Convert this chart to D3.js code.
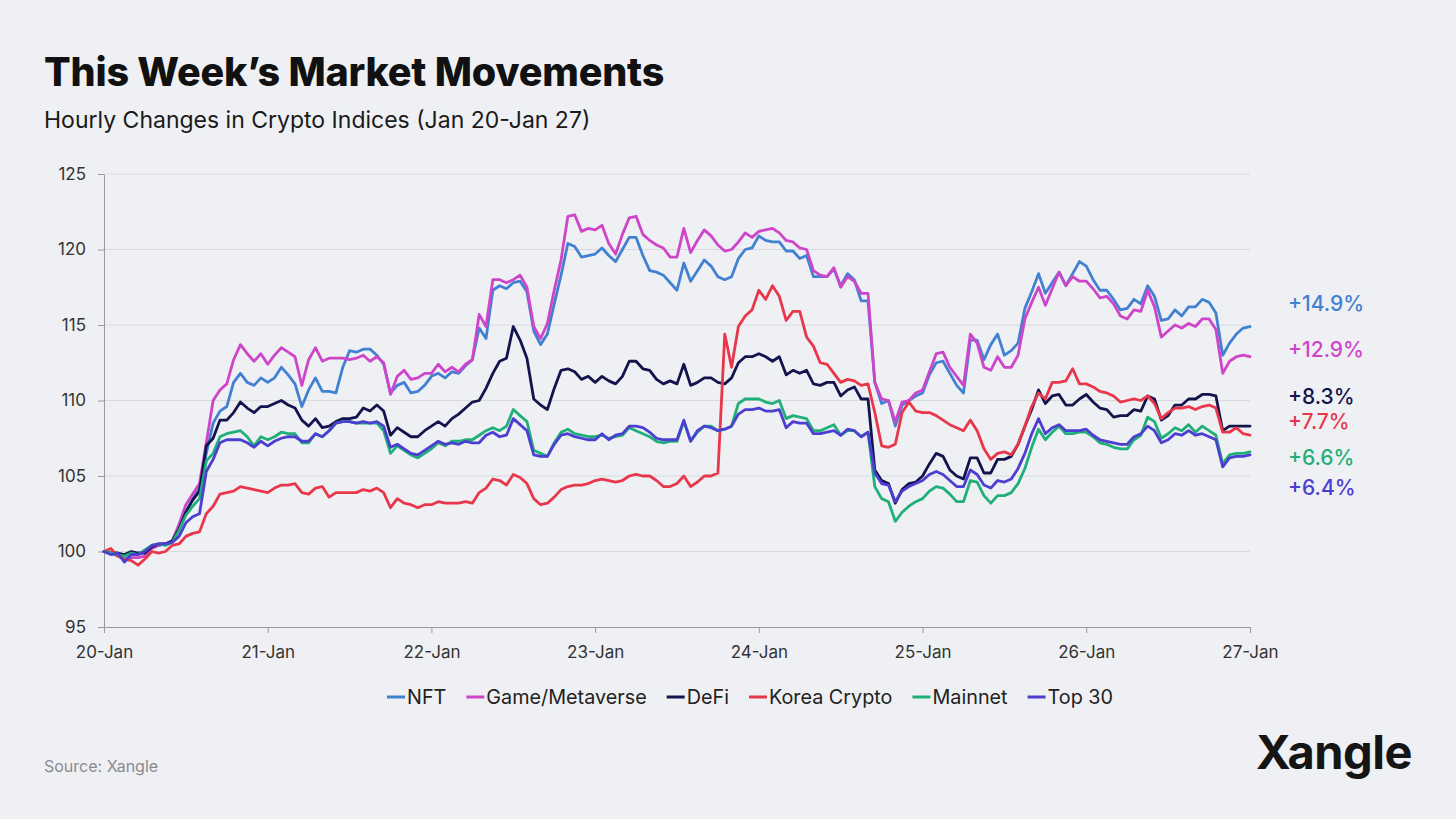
<!DOCTYPE html>
<html>
<head>
<meta charset="utf-8">
<script src="https://cdn.jsdelivr.net/npm/d3@7"></script>
<style>
  html, body { margin: 0; padding: 0; background: #eff0f4; }
  svg { display: block; font-family: Inter, "Noto Sans", sans-serif; }
</style>
</head>
<body>
<svg id="chart"></svg>
<script>
// hourly index values, Jan 20 00:00 .. Jan 27 00:00 (169 points)
const dayLabels = ["20-Jan", "21-Jan", "22-Jan", "23-Jan", "24-Jan", "25-Jan", "26-Jan", "27-Jan"];
const yTicks = [95, 100, 105, 110, 115, 120, 125];
const seriesNames = ["NFT", "Game/Metaverse", "DeFi", "Korea Crypto", "Mainnet", "Top 30"];

const nft = [
    100, 99.9, 99.8, 99.7, 99.8, 99.8, 100.0, 100.3, 100.4, 100.5, 100.7, 101.5, 102.6, 103.5, 104.2, 106.5, 108.5, 109.3, 109.6, 111.2, 111.8, 111.2, 111.0, 111.5, 111.2, 111.5, 112.2, 111.7, 111.1, 109.6, 110.7, 111.5, 110.6, 110.6, 110.5, 112.2, 113.3, 113.2, 113.4, 113.4, 113.0, 112.4, 110.5,
    111.0, 111.2, 110.5, 110.6, 111.0, 111.6, 111.8, 111.5, 111.9, 111.8, 112.3, 112.7, 114.8, 114.1, 117.3, 117.6, 117.4, 117.8, 117.9, 117.2, 114.6, 113.7, 114.4, 116.4, 118.3, 120.4, 120.2, 119.5, 119.6, 119.7, 120.1, 119.6, 119.2, 120.0, 120.8, 120.8, 119.6, 118.6, 118.5, 118.3, 117.8,
    117.3, 119.1, 117.9, 118.6, 119.3, 118.9, 118.2, 118.0, 118.2, 119.4, 120.0, 120.1, 120.9, 120.6, 120.5, 120.5, 119.9, 119.9, 119.4, 119.6, 118.2, 118.2, 118.2, 118.7, 117.6, 118.4, 118.0, 116.6, 116.6, 111.2, 109.8, 110.0, 108.3, 109.7, 110.0, 110.3, 110.5, 111.7, 112.5, 112.6, 111.8, 111.0,
    110.5, 114.0, 114.0, 112.7, 113.7, 114.4, 113.0, 113.3, 113.8, 116.1, 117.2, 118.4, 117.1, 117.8, 118.5, 117.6, 118.4, 119.2, 118.9, 118.0, 117.3, 117.3, 116.7, 116.0, 116.1, 116.7, 116.4, 117.6, 116.9, 115.3, 115.4, 116.0, 115.6, 116.2, 116.2, 116.7, 116.5, 115.8, 113.0, 113.8, 114.4, 114.8, 114.9
];
const game = [
    100, 99.9, 99.7, 99.5, 99.6, 99.6, 99.7, 100.2, 100.4, 100.5, 100.7, 101.8, 103.1, 103.8, 104.5, 107.2, 110.0, 110.7, 111.1, 112.7, 113.7, 113.1, 112.6, 113.1, 112.4, 113.0, 113.5, 113.2, 112.9, 111.0, 112.7, 113.5, 112.6, 112.8, 112.8, 112.8, 112.7, 112.8, 113.0, 112.6, 112.9, 112.5, 110.4,
    111.6, 112.0, 111.4, 111.5, 111.8, 111.8, 112.4, 111.9, 112.2, 111.9, 112.4, 112.7, 115.7, 114.9, 118.0, 118.0, 117.8, 118.0, 118.3, 117.5, 114.9, 114.1, 115.1, 117.3, 119.3, 122.2, 122.3, 121.2, 121.4, 121.3, 121.6, 120.4, 119.7, 121.0, 122.1, 122.2, 121.0, 120.6, 120.3, 120.1, 119.5,
    119.5, 121.4, 119.8, 120.6, 121.3, 120.9, 120.3, 119.9, 120.0, 120.5, 121.1, 120.8, 121.2, 121.3, 121.4, 121.1, 120.6, 120.5, 120.1, 120.0, 118.6, 118.3, 118.2, 118.8, 117.5, 118.2, 117.9, 117.1, 117.1, 111.2, 110.1, 110.0, 108.6, 109.9, 110.0, 110.5, 110.7, 111.9, 113.1, 113.2, 112.2, 111.6,
    111.0, 114.4, 113.8, 112.2, 112.0, 112.9, 112.2, 112.2, 113.0, 115.4, 116.5, 117.5, 116.3, 117.4, 118.5, 117.6, 118.2, 117.9, 117.9, 117.4, 116.8, 116.9, 116.4, 115.6, 115.4, 116.0, 115.9, 117.3, 116.2, 114.2, 114.6, 115.0, 114.8, 115.1, 114.9, 115.4, 115.4, 114.7, 111.8, 112.6, 112.9, 113.0, 112.9
];
const defi = [
    100, 99.9, 99.9, 99.8, 100.0, 99.9, 99.9, 100.3, 100.5, 100.5, 100.7, 101.5, 102.6, 103.4, 104.0, 107.0, 107.5, 108.7, 108.7, 109.2, 109.9, 109.5, 109.2, 109.6, 109.6, 109.8, 110.0, 109.7, 109.5, 108.7, 108.3, 108.8, 108.2, 108.3, 108.6, 108.8, 108.8, 108.9, 109.5, 109.3, 109.7, 109.3, 107.7,
    108.2, 107.9, 107.6, 107.6, 108.0, 108.3, 108.6, 108.3, 108.8, 109.1, 109.5, 109.9, 110.0, 110.8, 111.8, 112.6, 112.8, 114.9, 114.0, 112.8, 110.1, 109.7, 109.4, 110.8, 112.0, 112.1, 111.9, 111.4, 111.6, 111.2, 111.6, 111.3, 111.1, 111.6, 112.6, 112.6, 112.1, 112.0, 111.4, 111.1, 111.3,
    111.1, 112.4, 111.0, 111.2, 111.5, 111.5, 111.2, 111.1, 111.5, 112.5, 112.9, 112.9, 113.1, 112.9, 112.6, 112.9, 111.7, 112.0, 111.8, 112.0, 111.1, 111.0, 111.2, 111.2, 110.3, 110.7, 110.9, 110.1, 110.1, 105.4, 104.7, 104.5, 103.2, 104.1, 104.5, 104.6, 105.0, 105.8, 106.5, 106.3, 105.4, 105.0,
    104.8, 106.2, 106.2, 105.2, 105.2, 106.1, 106.1, 106.3, 107.1, 108.3, 109.4, 110.7, 109.8, 110.3, 110.4, 109.7, 109.7, 110.1, 110.4, 109.9, 109.5, 109.4, 108.9, 109.0, 109.0, 109.4, 109.3, 110.3, 110.1, 108.7, 109.0, 109.7, 109.7, 110.1, 110.1, 110.4, 110.4, 110.3, 108.0, 108.3, 108.3, 108.3, 108.3
];
const korea = [
    100, 100.2, 99.7, 99.5, 99.4, 99.1, 99.5, 100.0, 99.9, 100.0, 100.4, 100.5, 101.0, 101.2, 101.3, 102.5, 103.0, 103.8, 103.9, 104.0, 104.3, 104.2, 104.1, 104.0, 103.9, 104.2, 104.4, 104.4, 104.5, 103.9, 103.8, 104.2, 104.3, 103.6, 103.9, 103.9, 103.9, 103.9, 104.1, 104.0, 104.2, 103.9, 102.9,
    103.5, 103.2, 103.1, 102.9, 103.1, 103.1, 103.3, 103.2, 103.2, 103.2, 103.3, 103.2, 103.9, 104.2, 104.8, 104.7, 104.4, 105.1, 104.9, 104.5, 103.5, 103.1, 103.2, 103.6, 104.1, 104.3, 104.4, 104.4, 104.5, 104.7, 104.8, 104.7, 104.6, 104.7, 105.0, 105.1, 105.0, 105.0, 104.7, 104.3, 104.3,
    104.5, 105.0, 104.3, 104.6, 105.0, 105.0, 105.2, 114.4, 112.2, 114.9, 115.6, 116.0, 117.3, 116.7, 117.6, 116.9, 115.3, 115.9, 115.9, 114.2, 113.6, 112.5, 112.4, 111.8, 111.2, 111.4, 111.3, 111.0, 111.1, 109.2, 107.0, 106.9, 107.1, 109.2, 109.9, 109.3, 109.2, 109.2, 109.0, 108.7, 108.4, 108.2,
    108.0, 108.7, 108.0, 106.8, 106.1, 106.5, 106.6, 106.4, 107.1, 108.3, 109.6, 110.5, 110.1, 111.2, 111.2, 111.3, 112.1, 111.1, 111.1, 110.9, 110.6, 110.5, 110.3, 109.9, 110.0, 110.1, 110.0, 110.3, 109.8, 108.8, 109.2, 109.5, 109.5, 109.6, 109.4, 109.6, 109.7, 109.5, 107.9, 107.9, 108.2, 107.8, 107.7
];
const mainnet = [
    100, 99.9, 99.8, 99.7, 99.9, 99.8, 100.1, 100.4, 100.5, 100.4, 100.6, 101.4, 102.4, 103.0, 103.5, 106.0, 106.5, 107.6, 107.8, 107.9, 108.0, 107.6, 107.0, 107.6, 107.4, 107.6, 107.9, 107.8, 107.8, 107.2, 107.2, 107.8, 107.6, 108.0, 108.5, 108.6, 108.6, 108.5, 108.5, 108.5, 108.5, 108.0, 106.5,
    107.0, 106.7, 106.4, 106.2, 106.5, 106.8, 107.2, 107.0, 107.3, 107.3, 107.4, 107.4, 107.7, 108.0, 108.2, 108.0, 108.3, 109.4, 109.0, 108.6, 106.7, 106.5, 106.3, 107.2, 107.9, 108.1, 107.8, 107.7, 107.6, 107.6, 107.7, 107.5, 107.6, 107.7, 108.2, 108.0, 107.8, 107.6, 107.3, 107.2, 107.3,
    107.3, 108.6, 107.3, 107.9, 108.3, 108.3, 108.0, 108.1, 108.3, 109.8, 110.1, 110.1, 110.1, 109.9, 109.8, 110.0, 108.8, 109.0, 108.9, 108.8, 108.0, 108.0, 108.2, 108.4, 107.7, 108.0, 108.0, 107.6, 107.9, 104.3, 103.5, 103.3, 102.0, 102.6, 103.0, 103.3, 103.5, 104.0, 104.3, 104.2, 103.8, 103.3,
    103.3, 104.7, 104.6, 103.7, 103.2, 103.7, 103.7, 103.9, 104.5, 105.5, 106.9, 108.1, 107.4, 107.9, 108.3, 107.8, 107.8, 107.9, 107.9, 107.6, 107.2, 107.1, 106.9, 106.8, 106.8, 107.4, 107.7, 108.9, 108.6, 107.5, 107.8, 108.2, 108.0, 108.4, 107.9, 108.3, 108.0, 107.7, 105.8, 106.4, 106.5, 106.5, 106.6
];
const top30 = [
    100, 99.8, 99.9, 99.3, 99.8, 99.8, 100.0, 100.4, 100.5, 100.5, 100.6, 101.0, 101.9, 102.3, 102.5, 105.3, 106.1, 107.2, 107.4, 107.4, 107.4, 107.2, 106.9, 107.3, 107.0, 107.3, 107.5, 107.6, 107.6, 107.3, 107.3, 107.8, 107.6, 108.0, 108.5, 108.6, 108.6, 108.5, 108.6, 108.5, 108.6, 108.3, 106.9,
    107.1, 106.8, 106.5, 106.4, 106.7, 107.0, 107.3, 107.1, 107.2, 107.1, 107.3, 107.2, 107.2, 107.7, 107.9, 107.6, 107.7, 108.8, 108.4, 108.0, 106.4, 106.3, 106.3, 107.1, 107.7, 107.8, 107.6, 107.5, 107.4, 107.4, 107.8, 107.4, 107.7, 107.8, 108.3, 108.3, 108.2, 107.9, 107.5, 107.4, 107.4,
    107.4, 108.7, 107.3, 108.0, 108.3, 108.2, 108.0, 108.1, 108.3, 109.1, 109.4, 109.4, 109.5, 109.3, 109.3, 109.4, 108.2, 108.6, 108.5, 108.5, 107.8, 107.8, 107.9, 108.0, 107.7, 108.1, 108.0, 107.6, 107.9, 105.2, 104.5, 104.4, 103.3, 104.0, 104.3, 104.5, 104.7, 105.1, 105.3, 105.1, 104.7, 104.3,
    104.3, 105.4, 105.1, 104.4, 104.2, 104.7, 104.6, 104.8, 105.5, 106.5, 107.8, 108.8, 107.8, 108.2, 108.4, 108.0, 108.0, 108.0, 108.1, 107.7, 107.4, 107.3, 107.2, 107.1, 107.1, 107.6, 107.8, 108.3, 108.0, 107.2, 107.4, 107.8, 107.7, 108.0, 107.7, 107.8, 107.6, 107.4, 105.6, 106.2, 106.3, 106.3, 106.4
];

const seriesData = [nft, game, defi, korea, mainnet, top30];

// styles
const colors = ["#4281d2", "#cf45c9", "#13134d", "#e8374a", "#1faf78", "#4b3ed0"];
const labelNudge = [-23, -7, -30, -14, 6, 33]; // keep the end labels apart

const svgWidth = 1456, svgHeight = 819;
const margin = {top: 174, right: 206, bottom: 192, left: 104};

let svg = d3.select("#chart").attr("width", svgWidth).attr("height", svgHeight);

svg.append("rect").attr("width", svgWidth).attr("height", svgHeight).attr("fill", "#eff0f4");

let x = d3.scaleLinear()
    .domain([0, nft.length - 1])
    .range([margin.left, svgWidth - margin.right]);

let y = d3.scaleLinear()
    .domain([d3.min(yTicks), d3.max(yTicks)])
    .range([svgHeight - margin.bottom, margin.top]);

// title block
svg.append("text").attr("x", 44).attr("y", 86)
    .attr("font-size", 39.5).attr("font-weight", 800).attr("fill", "#111")
    .attr("letter-spacing", -0.2)
    .text("This Week\u2019s Market Movements");
svg.append("text").attr("x", 44).attr("y", 128)
    .attr("font-size", 23).attr("fill", "#1a1a1a")
    .text("Hourly Changes in Crypto Indices (Jan 20-Jan 27)");

// gridlines
svg.append("g").selectAll("line")
    .data(yTicks.slice(1))
    .enter().append("line")
    .attr("x1", x(0)).attr("x2", x(nft.length - 1))
    .attr("y1", d => y(d)).attr("y2", d => y(d))
    .attr("stroke", "#d9dadf").attr("stroke-width", 1);

// y axis
let yAxis = svg.append("g")
    .attr("transform", `translate(${margin.left},0)`)
    .call(d3.axisLeft(y).tickValues(yTicks).tickSize(6).tickSizeOuter(0).tickPadding(12));
yAxis.select(".domain").attr("stroke", "#9a9a9e");
yAxis.selectAll(".tick line").attr("stroke", "#9a9a9e");
yAxis.selectAll(".tick text").attr("font-size", 17).attr("fill", "#333").attr("font-family", "Inter, sans-serif");

// x axis, one tick per day
let dayTicks = dayLabels.map((d, i) => i * 24);
let xAxis = svg.append("g")
    .attr("transform", `translate(0,${y(d3.min(yTicks))})`)
    .call(d3.axisBottom(x).tickValues(dayTicks).tickFormat((d, i) => dayLabels[i])
        .tickSize(6).tickSizeOuter(0).tickPadding(13));
xAxis.select(".domain").attr("stroke", "#9a9a9e");
xAxis.selectAll(".tick line").attr("stroke", "#9a9a9e");
xAxis.selectAll(".tick text").attr("font-size", 17).attr("fill", "#333").attr("font-family", "Inter, sans-serif");

// lines
let line = d3.line()
    .x((d, i) => x(i))
    .y(d => y(d));

svg.append("g").selectAll("path")
    .data(seriesData)
    .enter().append("path")
    .attr("d", line)
    .attr("fill", "none")
    .attr("stroke", (d, i) => colors[i])
    .attr("stroke-width", 2.8)
    .attr("stroke-linejoin", "round")
    .attr("stroke-linecap", "round");

// end labels
svg.append("g").selectAll("text")
    .data(seriesData)
    .enter().append("text")
    .attr("x", 1288)
    .attr("y", (d, i) => y(d[d.length - 1]) + labelNudge[i])
    .attr("dy", "0.36em")
    .attr("font-size", 21).attr("font-weight", 500)
    .attr("fill", (d, i) => colors[i])
    .text(d => "+" + (d[d.length - 1] - 100).toFixed(1) + "%");

// legend
let legend = svg.append("g").attr("transform", "translate(387,697)");
let lx = 0;
seriesNames.forEach(function (name, i) {
    let g = legend.append("g").attr("transform", `translate(${lx},0)`);
    g.append("line").attr("x1", 0).attr("x2", 18).attr("y1", 0).attr("y2", 0)
        .attr("stroke", colors[i]).attr("stroke-width", 3);
    let t = g.append("text").attr("x", 20).attr("dy", "0.35em")
        .attr("font-size", 19.8).attr("fill", "#222").text(name);
    lx += 20 + t.node().getComputedTextLength() + 20;
});

// footer
svg.append("text").attr("x", 44).attr("y", 772)
    .attr("font-size", 16).attr("fill", "#8a8a8e")
    .text("Source: Xangle");
svg.append("text").attr("x", 1412).attr("y", 769)
    .attr("text-anchor", "end")
    .attr("font-size", 47).attr("font-weight", 700).attr("fill", "#151515")
    .attr("letter-spacing", -0.5)
    .text("Xangle");
</script>
</body>
</html>
